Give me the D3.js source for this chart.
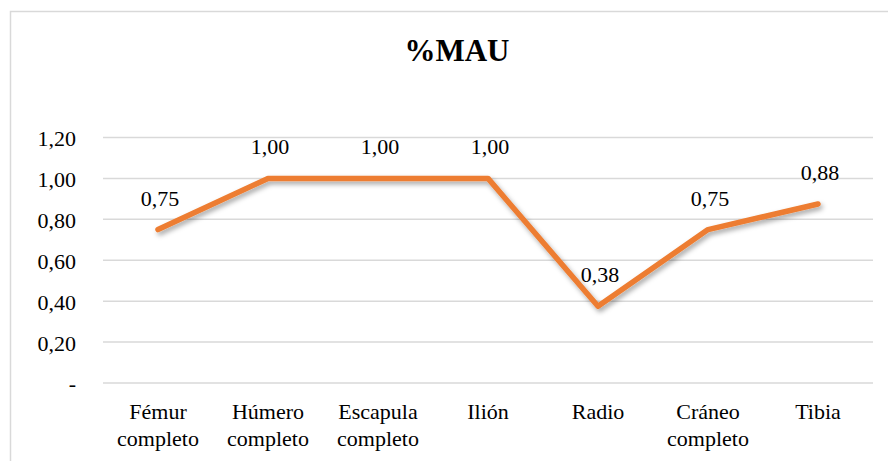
<!DOCTYPE html>
<html>
<head>
<meta charset="utf-8">
<script src="https://cdn.jsdelivr.net/npm/d3@7"></script>
<style>
  body { margin: 0; background: #fff; }
  svg text { font-family: 'Liberation Serif'; }
</style>
</head>
<body>
<div id="chart"></div>
<script>
// data
const categories = ["Fémur completo", "Húmero completo", "Escapula completo", "Ilión", "Radio", "Cráneo completo", "Tibia"];
const catLines = [["Fémur", "completo"], ["Húmero", "completo"], ["Escapula", "completo"], ["Ilión"], ["Radio"], ["Cráneo", "completo"], ["Tibia"]];
const values = [0.75, 1.00, 1.00, 1.00, 0.375, 0.75, 0.875];
const yTicks = [0, 0.2, 0.4, 0.6, 0.8, 1.0, 1.2];

let width = 888, height = 461;
let margin = { top: 137.5, bottom: 78, left: 103, right: 15 };

const locale = d3.formatLocale({ decimal: ",", thousands: ".", grouping: [3], currency: ["", ""] });
const fmt = locale.format(".2f");
const tickFmt = d => d === 0 ? "-" : fmt(d);

let svg = d3.select('#chart')
  .append('svg')
  .attr('width', width)
  .attr('height', height)
  .attr('font-family', 'Liberation Serif');

// shadow under the line
let defs = svg.append('defs');
let f = defs.append('filter').attr('id', 'shadow')
  .attr('x', '-10%').attr('y', '-10%').attr('width', '120%').attr('height', '130%');
f.append('feDropShadow')
  .attr('dx', 2).attr('dy', 3).attr('stdDeviation', 2.5)
  .attr('flood-color', '#000').attr('flood-opacity', 0.35);

// chart frame
svg.append('rect')
  .attr('x', 10.5).attr('y', 11.5)
  .attr('width', 900).attr('height', 500)
  .attr('fill', 'none')
  .attr('stroke', '#d9d9d9')
  .attr('stroke-width', 1.5);

// title
svg.append('text')
  .attr('x', 457)
  .attr('y', 61)
  .attr('text-anchor', 'middle')
  .attr('font-family', 'Liberation Serif')
  .attr('font-size', 31)
  .attr('font-weight', 'bold')
  .text('%MAU');

let xScale = d3.scalePoint()
  .domain(categories)
  .range([margin.left, width - margin.right])
  .padding(0.5);

let yScale = d3.scaleLinear()
  .domain([0, 1.2])
  .range([height - margin.bottom, margin.top]);

// gridlines
svg.append('g')
  .selectAll('line')
  .data(yTicks)
  .enter()
  .append('line')
  .attr('x1', margin.left)
  .attr('x2', width - margin.right)
  .attr('y1', d => yScale(d))
  .attr('y2', d => yScale(d))
  .attr('stroke', '#d9d9d9')
  .attr('stroke-width', 1.5);

// y axis labels
let yAxis = svg.append('g')
  .attr('transform', `translate(${margin.left - 27}, 0)`)
  .call(d3.axisLeft(yScale).tickValues(yTicks).tickFormat(tickFmt).tickSize(0).tickPadding(0))
  .attr('font-family', 'Liberation Serif')
  .attr('font-size', 22);
yAxis.select('.domain').remove();
yAxis.selectAll('text')
  .attr('fill', '#000')
  .attr('dy', '0.36em');

// x axis labels
let xLabels = svg.append('g')
  .selectAll('text')
  .data(categories)
  .enter()
  .append('text')
  .attr('x', d => xScale(d))
  .attr('y', yScale(0) + 36)
  .attr('text-anchor', 'middle')
  .attr('font-family', 'Liberation Serif')
  .attr('font-size', 22);
xLabels.selectAll('tspan')
  .data((d, i) => catLines[i])
  .enter()
  .append('tspan')
  .attr('x', function() { return d3.select(this.parentNode).attr('x'); })
  .attr('dy', (d, i) => i === 0 ? 0 : 27)
  .text(d => d);

// the line
let line = d3.line()
  .x((d, i) => xScale(categories[i]))
  .y(d => yScale(d));

svg.append('path')
  .datum(values)
  .attr('d', line)
  .attr('fill', 'none')
  .attr('stroke', '#ed7d31')
  .attr('stroke-width', 5.5)
  .attr('stroke-linecap', 'round')
  .attr('stroke-linejoin', 'round')
  .attr('filter', 'url(#shadow)');

// data labels
svg.append('g')
  .selectAll('text')
  .data(values)
  .enter()
  .append('text')
  .attr('x', (d, i) => xScale(categories[i]) + 2)
  .attr('y', d => yScale(d) - 24)
  .attr('text-anchor', 'middle')
  .attr('font-family', 'Liberation Serif')
  .attr('font-size', 22)
  .text(d => fmt(d));
</script>
</body>
</html>
